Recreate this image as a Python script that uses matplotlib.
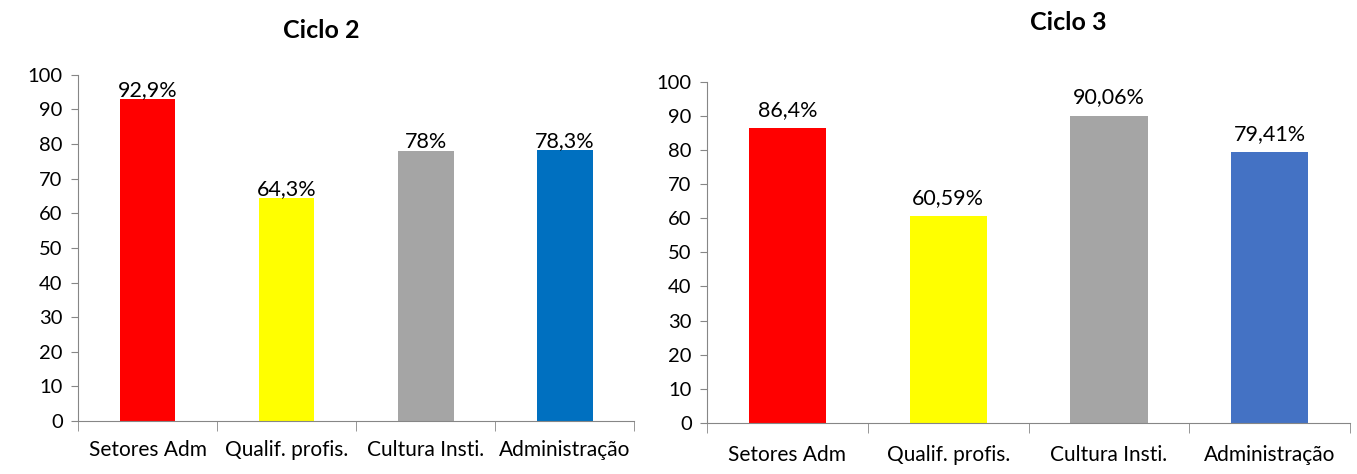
import matplotlib.pyplot as plt

plt.rcParams['font.family'] = ['Lato', 'DejaVu Sans']

categories = ['Setores Adm', 'Qualif. profis.', 'Cultura Insti.', 'Administração']

ciclo2 = [92.9, 64.3, 78.0, 78.3]
ciclo2_labels = ['92,9%', '64,3%', '78%', '78,3%']
ciclo2_colors = ['#FF0000', '#FFFF00', '#A5A5A5', '#0070C0']

ciclo3 = [86.4, 60.59, 90.06, 79.41]
ciclo3_labels = ['86,4%', '60,59%', '90,06%', '79,41%']
ciclo3_colors = ['#FF0000', '#FFFF00', '#A5A5A5', '#4472C4']

fig = plt.figure(figsize=(13.57, 4.74), dpi=100)
ax1 = fig.add_axes([0.0575, 0.112, 0.41, 0.730])
ax2 = fig.add_axes([0.521, 0.108, 0.474, 0.719])


def draw(ax, values, labels, colors, title, width, pad, xpad, title_pos):
    x = range(len(categories))
    bars = ax.bar(x, values, width=width, color=colors, zorder=2)
    for b, lab in zip(bars, labels):
        ax.text(b.get_x() + b.get_width() / 2, b.get_height() + pad, lab,
                ha='center', va='bottom', fontsize=15.5)
    ax.set_xlim(-0.5, len(categories) - 0.5)
    ax.set_ylim(0, 100)
    ax.set_yticks(range(0, 101, 10))
    ax.set_xticks(x)
    ax.set_xticklabels(categories, fontsize=15)
    ax.tick_params(axis='x', length=0, pad=xpad)
    # boundary ticks between categories
    ax.set_xticks([i - 0.5 for i in range(len(categories) + 1)], minor=True)
    ax.tick_params(axis='x', which='minor', length=7, color='#868686')
    ax.tick_params(axis='y', length=5, color='#868686', labelsize=14.5, pad=6)
    for s in ['top', 'right']:
        ax.spines[s].set_visible(False)
    for s in ['left', 'bottom']:
        ax.spines[s].set_color('#868686')
    fig.text(title_pos[0], title_pos[1], title, ha='center', va='center',
             fontsize=18, fontweight='bold')


draw(ax1, ciclo2, ciclo2_labels, ciclo2_colors, 'Ciclo 2', 0.4, -0.3, 14, (0.237, 0.935))
draw(ax2, ciclo3, ciclo3_labels, ciclo3_colors, 'Ciclo 3', 0.48, 2.5, 16, (0.787, 0.952))

fig.savefig('out.png', dpi=100, facecolor='white')
